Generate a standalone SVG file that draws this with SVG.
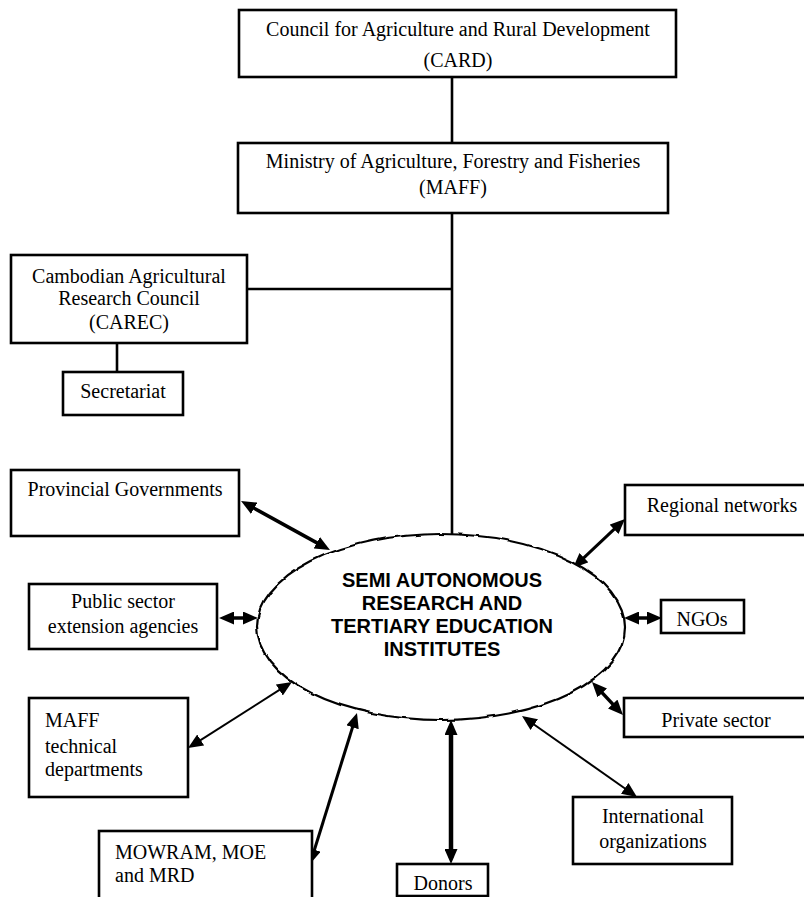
<svg xmlns="http://www.w3.org/2000/svg" width="804" height="897" viewBox="0 0 804 897">
<defs>
<style>
.box{fill:#fff;stroke:#000;stroke-width:2.6}
.t{font-family:"Liberation Serif","Times New Roman",serif;font-size:20px;fill:#000}
.c{text-anchor:middle}
.b{font-family:"Liberation Sans",Arial,sans-serif;font-size:20px;font-weight:bold;fill:#000;text-anchor:middle}
.ln{stroke:#000;stroke-width:2.6;fill:none}
.ar{stroke:#000;fill:none;marker-start:url(#ah);marker-end:url(#ah)}
</style>
<marker id="ah" markerUnits="userSpaceOnUse" markerWidth="15" markerHeight="13" refX="9" refY="6.5" orient="auto-start-reverse" viewBox="0 0 15 13">
<path d="M0,0 L15,6.5 L0,13 z" fill="#000"/>
</marker>
<filter id="wob" x="-10%" y="-10%" width="120%" height="120%">
<feTurbulence type="fractalNoise" baseFrequency="0.06" numOctaves="2" seed="3"/>
<feDisplacementMap in="SourceGraphic" scale="4" xChannelSelector="R" yChannelSelector="G"/>
</filter>
</defs>
<rect width="804" height="897" fill="#fff"/>
<g id="connectors">
<line class="ln" x1="452" y1="77" x2="452" y2="143"/>
<line class="ln" x1="452" y1="213" x2="452" y2="535"/>
<line class="ln" x1="247" y1="289" x2="452" y2="289"/>
<line class="ln" x1="117" y1="343" x2="117" y2="372"/>
<line class="ar" style="stroke-width:3.5" x1="246.3" y1="503.9" x2="324.7" y2="547.1"/>
<line class="ar" style="stroke-width:3.5" x1="225" y1="618" x2="252" y2="618"/>
<line class="ar" style="stroke-width:3.5" x1="656" y1="618" x2="630" y2="618"/>
<line class="ar" style="stroke-width:3" x1="620.6" y1="523.1" x2="577.4" y2="563.9"/>
<line class="ar" style="stroke-width:3.5" x1="596.1" y1="686.4" x2="618.9" y2="710.6"/>
<line class="ar" style="stroke-width:2" x1="526.9" y1="719.5" x2="632.1" y2="793.5"/>
<line class="ar" style="stroke-width:4.5" x1="451" y1="726" x2="451" y2="858"/>
<line class="ar" style="stroke-width:3" x1="355.2" y1="718.7" x2="311.8" y2="858.3"/>
<line class="ar" style="stroke-width:2" x1="286.9" y1="685.2" x2="193.1" y2="744.8"/>
</g>
<g id="card">
<rect class="box" x="239" y="10" width="437" height="67"/>
<text class="t c" x="458" y="36">Council for Agriculture and Rural Development</text>
<text class="t c" x="458" y="67">(CARD)</text>
</g>
<g id="maff">
<rect class="box" x="238" y="143" width="430" height="70"/>
<text class="t c" x="453" y="168">Ministry of Agriculture, Forestry and Fisheries</text>
<text class="t c" x="453" y="194">(MAFF)</text>
</g>
<g id="carec">
<rect class="box" x="11" y="255" width="236" height="88"/>
<text class="t c" x="129" y="283">Cambodian Agricultural</text>
<text class="t c" x="129" y="305">Research Council</text>
<text class="t c" x="129" y="329">(CAREC)</text>
</g>
<g id="secretariat">
<rect class="box" x="63" y="372" width="120" height="43"/>
<text class="t c" x="123" y="398">Secretariat</text>
</g>
<g id="provincial">
<rect class="box" x="11" y="470" width="228" height="66"/>
<text class="t c" x="125" y="496">Provincial Governments</text>
</g>
<g id="public">
<rect class="box" x="29" y="584" width="188" height="65"/>
<text class="t c" x="123" y="608">Public sector</text>
<text class="t c" x="123" y="633">extension agencies</text>
</g>
<g id="mafftech">
<rect class="box" x="29" y="698" width="159" height="99"/>
<text class="t" x="45" y="727">MAFF</text>
<text class="t" x="45" y="753">technical</text>
<text class="t" x="45" y="776">departments</text>
</g>
<g id="mowram">
<rect class="box" x="99" y="831" width="213" height="80"/>
<text class="t" x="115" y="859">MOWRAM, MOE</text>
<text class="t" x="115" y="882">and MRD</text>
</g>
<g id="donors">
<rect class="box" x="397" y="864" width="91" height="32"/>
<text class="t c" x="443" y="890">Donors</text>
</g>
<g id="international">
<rect class="box" x="573" y="797" width="159" height="67"/>
<text class="t c" x="653" y="823">International</text>
<text class="t c" x="653" y="848">organizations</text>
</g>
<g id="private">
<rect class="box" x="624" y="698" width="190" height="39"/>
<text class="t c" x="716" y="727">Private sector</text>
</g>
<g id="ngos">
<rect class="box" x="661" y="600" width="83" height="33"/>
<text class="t c" x="702" y="626">NGOs</text>
</g>
<g id="regional">
<rect class="box" x="625" y="485" width="190" height="50"/>
<text class="t c" x="722" y="512">Regional networks</text>
</g>
<g id="institutes">
<ellipse cx="441" cy="627" rx="184" ry="93" fill="#fff" stroke="none"/>
<ellipse cx="441" cy="627" rx="184" ry="93" fill="none" stroke="#000" stroke-width="2.2" filter="url(#wob)"/>
<text class="b" x="442" y="587">SEMI AUTONOMOUS</text>
<text class="b" x="442" y="610">RESEARCH AND</text>
<text class="b" x="442" y="633">TERTIARY EDUCATION</text>
<text class="b" x="442" y="656">INSTITUTES</text>
</g>
</svg>
